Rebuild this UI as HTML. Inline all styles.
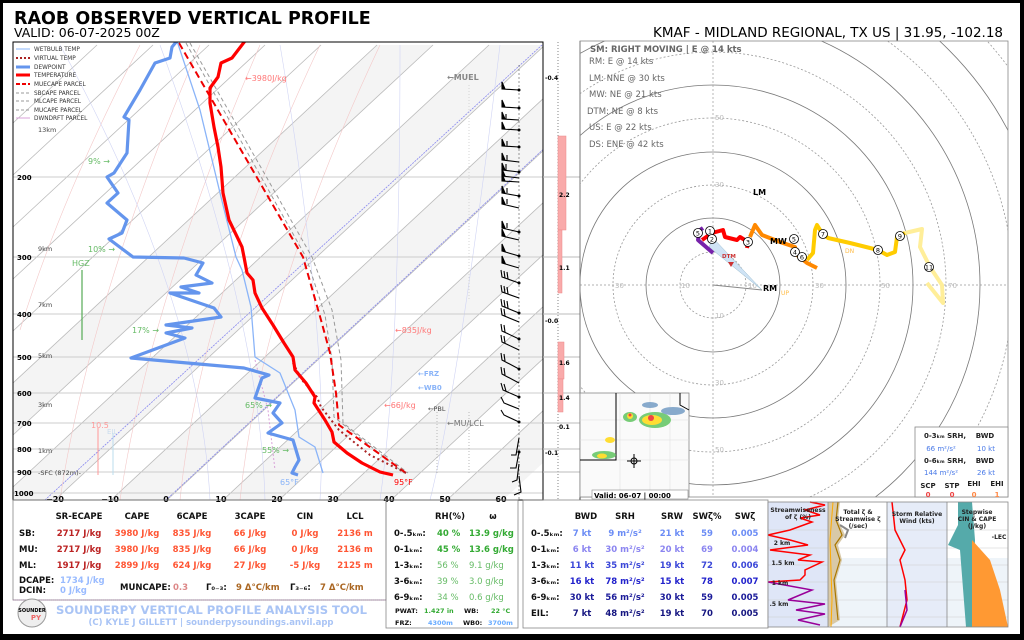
<!DOCTYPE html>
<html><head><meta charset="utf-8"><style>
html,body{margin:0;padding:0;background:#fff}
svg{display:block}
text{font-family:"DejaVu Sans","Liberation Sans",sans-serif}
</style></head><body>
<svg width="1024" height="640" viewBox="0 0 1024 640" xmlns="http://www.w3.org/2000/svg">
<rect x="0" y="0" width="1024" height="640" fill="#000"/>
<rect x="3" y="3" width="1017" height="631" fill="#fff"/>
<!-- titles -->
<text x="14" y="24" font-size="17.5" font-weight="bold">RAOB OBSERVED VERTICAL PROFILE</text>
<text x="14" y="37" font-size="12.5">VALID: 06-07-2025 00Z</text>
<text x="1003" y="37" font-size="13.5" text-anchor="end">KMAF - MIDLAND REGIONAL, TX US | 31.95, -102.18</text>

<!-- SKEW-T -->
<defs><clipPath id="sk"><rect x="13" y="42" width="530" height="458"/></clipPath>
<clipPath id="hd"><rect x="580" y="41" width="428" height="456"/></clipPath></defs>
<g clip-path="url(#sk)">
<g fill="#f4f4f4">
<polygon points="111,500 167,500 657,45 601,45"/>
<polygon points="223,500 279,500 769,45 713,45"/>
<polygon points="335,500 391,500 881,45 825,45"/>
<polygon points="447,500 503,500 993,45 937,45"/>
<polygon points="-1,500 55,500 545,45 489,45"/>
<polygon points="-113,500 -57,500 433,45 377,45"/>
</g>
<g stroke="#bbb" stroke-width="0.8">
<line x1="-169" y1="500" x2="321" y2="45"/><line x1="-113" y1="500" x2="377" y2="45"/>
<line x1="-57" y1="500" x2="433" y2="45"/><line x1="-1" y1="500" x2="489" y2="45"/>
<line x1="55" y1="500" x2="545" y2="45"/><line x1="111" y1="500" x2="601" y2="45"/>
<line x1="167" y1="500" x2="657" y2="45"/><line x1="223" y1="500" x2="713" y2="45"/>
<line x1="279" y1="500" x2="769" y2="45"/><line x1="335" y1="500" x2="825" y2="45"/>
<line x1="391" y1="500" x2="881" y2="45"/><line x1="447" y1="500" x2="937" y2="45"/>
<line x1="-225" y1="500" x2="265" y2="45"/><line x1="-281" y1="500" x2="209" y2="45"/>
<line x1="-337" y1="500" x2="153" y2="45"/><line x1="-393" y1="500" x2="97" y2="45"/>
</g>
<g stroke="#8888ee" stroke-width="0.8" stroke-dasharray="2,1">
<line x1="45" y1="500" x2="542" y2="45"/><line x1="166" y1="500" x2="663" y2="38"/>
</g>
<g fill="none" stroke="#f3c8c8" stroke-width="0.6">
<path d="M20,330 Q60,200 140,45"/><path d="M60,500 Q90,300 200,45"/><path d="M120,500 Q150,300 260,45"/>
<path d="M180,500 Q200,300 320,45"/><path d="M240,500 Q260,300 380,45"/>
</g>
<g fill="none" stroke="#d0d4f4" stroke-width="0.6">
<path d="M210,500 Q200,300 60,45"/><path d="M265,500 Q260,320 160,45"/><path d="M320,500 Q330,340 280,45"/>
<path d="M380,500 Q400,360 400,45"/><path d="M430,500 Q460,380 500,45"/>
</g>
<g stroke="#ccc" stroke-width="1">
<line x1="13" y1="177" x2="543" y2="177"/><line x1="13" y1="257" x2="543" y2="257"/>
<line x1="13" y1="314" x2="543" y2="314"/><line x1="13" y1="357" x2="543" y2="357"/>
<line x1="13" y1="393" x2="543" y2="393"/><line x1="13" y1="423" x2="543" y2="423"/>
<line x1="13" y1="449" x2="543" y2="449"/><line x1="13" y1="472" x2="543" y2="472"/>
<line x1="13" y1="493" x2="543" y2="493"/>
</g>
<polyline fill="none" stroke="#999" stroke-width="1" stroke-dasharray="4,3" points="190,43 312,257 332,310 341,360 343,423 408,473"/>
<polyline fill="none" stroke="#999" stroke-width="1" stroke-dasharray="4,3" points="186,43 306,257 325,315 332,360 334,417 404,473"/>
<polyline fill="none" stroke="#e00" stroke-width="2" stroke-dasharray="7,4" points="179,43 303,257 321,320 330,353 336,393 339,425 406,473"/>
<polyline fill="none" stroke="#d8a0d8" stroke-width="1" stroke-dasharray="2,2" points="255,360 268,410 275,470"/>
<polyline fill="none" stroke="#8ab4f8" stroke-width="1.3" points="177,41 200,110 221,197 236,257 242,270 251,307 255,357 280,373 295,410 299,437 315,447 323,473"/>
<polyline fill="none" stroke="#a22" stroke-width="2" stroke-dasharray="2,3" points="293,363 302,380 317,397 321,407 339,430 370,455 406,473"/>
<polyline fill="none" stroke="#f00" stroke-width="3.2" stroke-linejoin="round" points="245,41 232,58 221,63 218,77 210,88 210,103 214,127 218,147 221,167 223,193 229,220 242,247 244,257 247,273 253,280 255,293 262,308 273,325 284,343 293,357 295,370 306,383 315,397 314,403 325,420 332,432 334,442 347,453 362,463 380,472 393,475"/>
<polyline fill="none" stroke="#6495ed" stroke-width="3.2" stroke-linejoin="round" points="177,41 172,47 170,58 155,63 140,90 124,117 129,120 127,153 114,173 107,177 118,193 107,203 127,220 122,233 109,239 133,257 184,258 203,263 196,275 212,283 181,287 199,293 170,293 214,308 221,317 166,325 192,328 166,333 185,338 131,358 244,368 269,375 262,378 255,398 280,403 273,413 282,423 268,433 293,440 299,460 295,467 292,473 298,475"/>
<line x1="82" y1="270" x2="82" y2="340" stroke="#5a5" stroke-width="1.2"/>
<line x1="98" y1="428" x2="98" y2="475" stroke="#f99" stroke-width="1"/>
<line x1="113" y1="433" x2="113" y2="475" stroke="#bde" stroke-width="1"/>
<line x1="437" y1="412" x2="437" y2="475" stroke="#aaa" stroke-width="0.8" stroke-dasharray="1,2"/>
<line x1="469" y1="412" x2="469" y2="475" stroke="#aaa" stroke-width="0.8" stroke-dasharray="1,2"/>
<line x1="469" y1="85" x2="469" y2="300" stroke="#ccc" stroke-width="0.8" stroke-dasharray="1,2"/>
</g>
<rect x="13" y="42" width="530" height="458" fill="none" stroke="#000" stroke-width="1"/>
<line x1="519" y1="65" x2="519" y2="500" stroke="#555" stroke-width="0.6" stroke-dasharray="2,2"/>
<g stroke="#000" stroke-width="1.1" fill="#000">
<path d="M519,90 L502,89 M502,89 L502,82 L505,89Z"/>
<path d="M519,108 L502,107 M502,107 L502,100 L505,107Z"/>
<path d="M519,120 L502,119 M502,119 L502,112 L505,119Z M506,119 L506,114"/>
<path d="M519,130 L502,129 M502,129 L502,122 L505,129Z"/>
<path d="M519,147 L502,146 M502,146 L502,139 L505,146Z M507,146 L507,141"/>
<path d="M519,162 L502,160 M502,160 L502,153 L505,160Z M507,160 L507,155"/>
<path d="M519,172 L502,170 M502,170 L502,163 L505,170Z M506,170 L506,164"/>
<path d="M519,178 L502,176 M502,176 L502,169 L505,176Z"/>
<path d="M519,182 L502,181 M502,181 L502,174 L505,181Z"/>
<path d="M519,196 L502,193 M502,193 L502,186 L505,193Z M507,193 L507,188"/>
<path d="M519,208 L502,204 M502,204 L502,197 L505,204Z M507,204 L507,199"/>
<path d="M519,232 L502,228 M502,228 L502,221 L505,228Z M507,228 L507,223"/>
<path d="M519,240 L502,236 M502,236 L502,229 L505,236Z"/>
<path d="M519,256 L502,251 M502,251 L502,244 L505,251Z"/>
<path d="M519,268 L502,263 M502,263 L502,256 L505,263Z"/>
</g>
<g stroke="#000" stroke-width="1.1" fill="none">
<path d="M519,283 L502,277 L501,270 M505,278 L504,271 M508,279 L507,272"/>
<path d="M519,298 L502,292 L501,285 M505,293 L504,286 M508,294 L507,287"/>
<path d="M519,313 L502,306 L501,299 M505,307 L504,300 M508,308 L507,301"/>
<path d="M519,322 L502,315 L501,308 M505,316 L504,309"/>
<path d="M519,339 L502,331 L501,324 M505,332 L504,325"/>
<path d="M519,350 L502,342 L501,335 M505,343 L504,336"/>
<path d="M519,369 L502,360 L501,353 M505,361 L504,354"/>
<path d="M519,383 L502,374 L501,367 M505,375 L504,368"/>
<path d="M519,397 L503,390 L501,383 M506,391 L504,384"/>
<path d="M519,409 L504,403 L501,397"/>
<path d="M519,422 L504,415 L501,410"/>
<path d="M519,438 L516,455 L511,455"/>
<path d="M519,452 L516,468 L510,468"/>
<path d="M519,464 L517,480 L512,482"/>
<path d="M519,476 L521,492 L514,495"/>
</g>
<g fill="#000"><circle cx="519" cy="90" r="1.5"/><circle cx="519" cy="108" r="1.5"/><circle cx="519" cy="130" r="1.5"/><circle cx="519" cy="147" r="1.5"/><circle cx="519" cy="172" r="1.5"/><circle cx="519" cy="196" r="1.5"/><circle cx="519" cy="232" r="1.5"/><circle cx="519" cy="256" r="1.5"/><circle cx="519" cy="283" r="1.5"/><circle cx="519" cy="313" r="1.5"/><circle cx="519" cy="339" r="1.5"/><circle cx="519" cy="369" r="1.5"/><circle cx="519" cy="397" r="1.5"/><circle cx="519" cy="422" r="1.5"/><circle cx="519" cy="452" r="1.5"/></g>
<line x1="558" y1="42" x2="558" y2="500" stroke="#333" stroke-width="0.6" stroke-dasharray="1,2"/>
<line x1="543" y1="177" x2="580" y2="177" stroke="#bbb"/><line x1="543" y1="257" x2="580" y2="257" stroke="#bbb"/>
<line x1="543" y1="314" x2="580" y2="314" stroke="#bbb"/><line x1="543" y1="357" x2="580" y2="357" stroke="#bbb"/>
<line x1="543" y1="393" x2="580" y2="393" stroke="#bbb"/><line x1="543" y1="423" x2="580" y2="423" stroke="#bbb"/>
<line x1="543" y1="449" x2="580" y2="449" stroke="#bbb"/><line x1="543" y1="472" x2="580" y2="472" stroke="#bbb"/>
<g fill="#f9aaaa" stroke="#e88" stroke-width="0.5">
<rect x="558" y="136" width="8" height="94"/><rect x="558" y="230" width="4" height="63"/>
<rect x="558" y="342" width="6" height="37"/><rect x="558" y="379" width="5" height="33"/>
</g>
<g font-size="6" font-weight="bold" fill="#000">
<text x="545" y="80">-0.4</text><text x="559" y="197">2.2</text><text x="559" y="270">1.1</text>
<text x="545" y="323">-0.0</text><text x="559" y="365">1.6</text><text x="559" y="400">1.4</text>
<text x="559" y="429">0.1</text><text x="545" y="455">-0.1</text>
</g>
<line x1="580" y1="41" x2="580" y2="500" stroke="#000" stroke-width="0.8"/>
<g font-size="5.8" fill="#333">
<line x1="16" y1="49" x2="30" y2="49" stroke="#8ab4f8"/><text x="34" y="51">WETBULB TEMP</text>
<line x1="16" y1="58" x2="30" y2="58" stroke="#a22" stroke-width="2" stroke-dasharray="2,2"/><text x="34" y="60">VIRTUAL TEMP</text>
<line x1="16" y1="67" x2="30" y2="67" stroke="#6495ed" stroke-width="3"/><text x="34" y="69">DEWPOINT</text>
<line x1="16" y1="75" x2="30" y2="75" stroke="#f00" stroke-width="3"/><text x="34" y="77">TEMPERATURE</text>
<line x1="16" y1="84" x2="30" y2="84" stroke="#e00" stroke-width="2" stroke-dasharray="4,2"/><text x="34" y="86">MUECAPE PARCEL</text>
<line x1="16" y1="93" x2="30" y2="93" stroke="#999" stroke-dasharray="3,2"/><text x="34" y="95">SBCAPE PARCEL</text>
<line x1="16" y1="101" x2="30" y2="101" stroke="#999" stroke-dasharray="3,2"/><text x="34" y="103">MLCAPE PARCEL</text>
<line x1="16" y1="110" x2="30" y2="110" stroke="#999" stroke-dasharray="3,2"/><text x="34" y="112">MUCAPE PARCEL</text>
<line x1="16" y1="118" x2="30" y2="118" stroke="#d8a0d8"/><text x="34" y="120">DWNDRFT PARCEL</text>
</g>
<g font-size="6.5" fill="#444">
<text x="38" y="132">13km</text><text x="38" y="251">9km</text><text x="38" y="307">7km</text>
<text x="38" y="358">5km</text><text x="38" y="407">3km</text><text x="38" y="453">1km</text>
<text x="38" y="475">-SFC (872m)-</text><text x="428" y="411">←PBL</text>
</g>
<g font-size="7" font-weight="bold" fill="#000">
<text x="17" y="180">200</text><text x="17" y="260">300</text><text x="17" y="317">400</text><text x="17" y="360">500</text>
<text x="17" y="396">600</text><text x="17" y="426">700</text><text x="17" y="452">800</text><text x="17" y="475">900</text><text x="14" y="496">1000</text>
</g>
<g font-size="8" font-weight="bold" fill="#000" text-anchor="middle">
<text x="55" y="502">−20</text><text x="110" y="502">−10</text><text x="166" y="502">0</text><text x="221" y="502">10</text>
<text x="277" y="502">20</text><text x="333" y="502">30</text><text x="389" y="502">40</text><text x="445" y="502">50</text><text x="501" y="502">60</text>
</g>
<g font-size="8">
<text x="245" y="81" fill="#f77">←3980J/kg</text>
<text x="447" y="80" fill="#888" font-weight="bold">←MUEL</text>
<text x="88" y="164" fill="#6b6">9% →</text><text x="88" y="252" fill="#6b6">10% →</text>
<text x="72" y="266" fill="#6b6">HGZ</text><text x="132" y="333" fill="#6b6">17% →</text>
<text x="245" y="408" fill="#6b6">65% →</text><text x="262" y="453" fill="#6b6">55% →</text>
<text x="280" y="485" fill="#8ab4f8">65°F</text><text x="394" y="485" fill="#f00">95°F</text>
<text x="395" y="333" fill="#f77">←835J/kg</text>
<text x="418" y="376" fill="#8ab4f8" font-size="7" font-weight="bold">←FRZ</text>
<text x="418" y="390" fill="#8ab4f8" font-size="7" font-weight="bold">←WB0</text>
<text x="384" y="408" fill="#f77">←66J/kg</text>
<text x="447" y="426" fill="#777">←MU/LCL</text>
<text x="91" y="428" fill="#f99">10.5</text><text x="107" y="434" fill="#cde" font-size="7">EIL</text>
</g>

<!-- HODOGRAPH -->
<g clip-path="url(#hd)">
<g fill="none" stroke-width="0.8">
<circle cx="713" cy="285" r="33" stroke="#999" stroke-dasharray="2,2"/>
<circle cx="713" cy="285" r="67" stroke="#777"/>
<circle cx="713" cy="285" r="100" stroke="#999" stroke-dasharray="2,2"/>
<circle cx="713" cy="285" r="133" stroke="#777"/>
<circle cx="713" cy="285" r="167" stroke="#999" stroke-dasharray="2,2"/>
<circle cx="713" cy="285" r="200" stroke="#777"/>
<circle cx="713" cy="285" r="233" stroke="#999" stroke-dasharray="2,2"/>
<circle cx="713" cy="285" r="267" stroke="#777"/>
<circle cx="713" cy="285" r="300" stroke="#999" stroke-dasharray="2,2"/>
<circle cx="713" cy="285" r="333" stroke="#777"/>
<circle cx="713" cy="285" r="367" stroke="#999" stroke-dasharray="2,2"/>
</g>
<line x1="713" y1="41" x2="713" y2="497" stroke="#999" stroke-width="0.7" stroke-dasharray="2,2"/>
<line x1="580" y1="285" x2="1008" y2="285" stroke="#999" stroke-width="0.7" stroke-dasharray="2,2"/>
<g font-size="7" fill="#bbb">
<text x="615" y="288">30</text><text x="681" y="288">10</text><text x="748" y="288">10</text><text x="815" y="288">30</text>
<text x="881" y="288">50</text><text x="948" y="288">70</text><text x="715" y="120">50</text><text x="715" y="187">30</text>
<text x="715" y="318">10</text><text x="715" y="385">30</text><text x="715" y="452">50</text>
</g>
<polygon points="713,238 762,290 709,247" fill="#cfe3f5" stroke="#9bc" stroke-width="0.5"/>
<line x1="713" y1="285" x2="762" y2="290" stroke="#888" stroke-width="1"/>
<polyline fill="none" stroke="#fe9" stroke-width="4" stroke-linejoin="round" points="905,233 922,229 920,247 930,267 942,285 943,303 927,283"/>
<polyline fill="none" stroke="#fc0" stroke-width="4" stroke-linejoin="round" points="807,260 813,253 815,230 817,225 822,233 828,238 850,243 878,250 887,255 895,252 897,237 905,233"/>
<polyline fill="none" stroke="#f80" stroke-width="4" stroke-linejoin="round" points="750,237 755,225 762,235 780,242 795,247 797,255 807,263 817,268"/>
<polyline fill="none" stroke="#f00" stroke-width="4" stroke-linejoin="round" points="702,240 712,233 723,230 725,237 737,240 740,237 748,242 747,248"/>
<polyline fill="none" stroke="#72a" stroke-width="4" stroke-linejoin="round" points="713,253 698,240 700,230 703,228"/>
<g fill="#fff" stroke="#000" stroke-width="0.8">
<circle cx="710" cy="231" r="4.5"/><circle cx="698" cy="233" r="4.5"/><circle cx="712" cy="239" r="4.5"/>
<circle cx="748" cy="242" r="4.5"/><circle cx="794" cy="239" r="4.5"/><circle cx="795" cy="252" r="4.5"/>
<circle cx="802" cy="257" r="4.5"/><circle cx="823" cy="234" r="4.5"/><circle cx="878" cy="250" r="4.5"/>
<circle cx="900" cy="236" r="4.5"/><circle cx="929" cy="267" r="4.5"/>
</g>
<g font-size="6.5" text-anchor="middle" fill="#000">
<text x="710" y="233.5">1</text><text x="698" y="235.5">5</text><text x="712" y="241.5">2</text><text x="748" y="244.5">3</text>
<text x="794" y="241.5">5</text><text x="795" y="254.5">4</text><text x="802" y="259.5">6</text><text x="823" y="236.5">7</text>
<text x="878" y="252.5">8</text><text x="900" y="238.5">9</text><text x="929" y="269.5">11</text>
</g>
<g font-weight="bold" font-size="8" fill="#000">
<text x="753" y="195">LM</text><text x="770" y="244">MW</text><text x="763" y="291">RM</text>
</g>
<text x="722" y="258" font-size="5.5" fill="#c33" font-weight="bold">DTM</text>
<polygon points="728,262 734,262 731,267" fill="#c33"/>
<text x="781" y="295" font-size="6" fill="#fb4">UP</text><text x="845" y="253" font-size="6" fill="#fb4">DN</text>
<g font-size="8.5" fill="#666">
<text x="590" y="52" font-weight="bold">SM: RIGHT MOVING | E @ 14 kts</text>
<text x="589" y="64">RM: E @ 14 kts</text><text x="589" y="81">LM: NNE @ 30 kts</text>
<text x="589" y="97">MW: NE @ 21 kts</text><text x="587" y="114">DTM: NE @ 8 kts</text>
<text x="589" y="130">US: E @ 22 kts</text><text x="589" y="147">DS: ENE @ 42 kts</text>
</g>
</g>
<rect x="580" y="41" width="428" height="456" fill="none" stroke="#888" stroke-width="0.8"/>
<rect x="580" y="393" width="109" height="104" fill="#fafafa" stroke="#888" stroke-width="0.8"/>
<g stroke="#ddd" stroke-width="0.5"><line x1="580" y1="420" x2="689" y2="420"/><line x1="580" y1="440" x2="689" y2="440"/><line x1="580" y1="460" x2="689" y2="460"/><line x1="620" y1="393" x2="620" y2="497"/><line x1="650" y1="393" x2="650" y2="497"/><line x1="670" y1="393" x2="670" y2="497"/></g>
<polyline points="580,460 616,460 616,393" fill="none" stroke="#000" stroke-width="1"/>
<polyline points="680,393 680,405 689,410" fill="none" stroke="#000" stroke-width="1"/>
<g>
<ellipse cx="655" cy="420" rx="16" ry="8" fill="#7c7"/><ellipse cx="652" cy="420" rx="10" ry="5" fill="#fd3"/><circle cx="651" cy="418" r="3" fill="#e44"/>
<ellipse cx="630" cy="417" rx="7" ry="5" fill="#7c7"/><circle cx="630" cy="416" r="3" fill="#fd3"/><circle cx="630" cy="415" r="1.5" fill="#e44"/>
<ellipse cx="673" cy="411" rx="12" ry="4" fill="#8ac"/><ellipse cx="650" cy="405" rx="8" ry="3" fill="#8ac"/>
<ellipse cx="610" cy="440" rx="5" ry="3" fill="#fd3"/><ellipse cx="604" cy="455" rx="12" ry="4" fill="#7c7"/><ellipse cx="602" cy="456" rx="5" ry="2.5" fill="#fd3"/>
</g>
<g stroke="#000" stroke-width="1"><circle cx="634" cy="461" r="3" fill="none"/><line x1="627" y1="461" x2="641" y2="461"/><line x1="634" y1="454" x2="634" y2="468"/></g>
<rect x="592" y="490" width="96" height="9" fill="#fff" stroke="#888" stroke-width="0.6"/>
<text x="594" y="498" font-size="7" font-weight="bold">Valid: 06-07 | 00:00</text>
<rect x="915" y="427" width="93" height="70" fill="#fff" stroke="#888" stroke-width="0.8"/>
<g font-size="7" font-weight="bold" text-anchor="middle">
<text x="945" y="438" fill="#222">0-3ₖₘ SRH,</text><text x="985" y="438" fill="#222">BWD</text>
<text x="941" y="451" fill="#4a7ae8" font-weight="normal">66 m²/s²</text><text x="986" y="451" fill="#4a7ae8" font-weight="normal">10 kt</text>
<text x="945" y="463" fill="#222">0-6ₖₘ SRH,</text><text x="985" y="463" fill="#222">BWD</text>
<text x="941" y="475" fill="#4a7ae8" font-weight="normal">144 m²/s²</text><text x="986" y="475" fill="#4a7ae8" font-weight="normal">26 kt</text>
<text x="928" y="488" fill="#222">SCP</text><text x="952" y="488" fill="#222">STP</text><text x="974" y="486" fill="#222">EHI</text><text x="997" y="486" fill="#222">EHI</text>
<text x="928" y="497" fill="#e44">0</text><text x="952" y="497" fill="#e44">0</text><text x="974" y="497" fill="#f84">0</text><text x="997" y="497" fill="#f84">1</text>
</g>

<!-- BOTTOM TABLE 1 -->
<rect x="13" y="500" width="373" height="100" fill="none" stroke="#888" stroke-width="0.8"/>
<line x1="13" y1="600" x2="386" y2="600" stroke="#a5a" stroke-width="0.6" stroke-dasharray="1,1"/>
<g font-size="8.5" font-weight="bold">
<g text-anchor="middle" fill="#111"><text x="79" y="519">SR-ECAPE</text><text x="137" y="519">CAPE</text><text x="192" y="519">6CAPE</text><text x="250" y="519">3CAPE</text><text x="305" y="519">CIN</text><text x="355" y="519">LCL</text></g>
<text x="19" y="536" fill="#111">SB:</text><text x="19" y="552" fill="#111">MU:</text><text x="19" y="568" fill="#111">ML:</text>
<g text-anchor="middle" fill="#b22">
<text x="79" y="536">2717 J/kg</text><text x="79" y="552">2717 J/kg</text><text x="79" y="568">1917 J/kg</text></g>
<g text-anchor="middle" fill="#f53">
<text x="137" y="536">3980 J/kg</text><text x="192" y="536">835 J/kg</text><text x="250" y="536">66 J/kg</text><text x="305" y="536">0 J/kg</text><text x="355" y="536">2136 m</text>
<text x="137" y="552">3980 J/kg</text><text x="192" y="552">835 J/kg</text><text x="250" y="552">66 J/kg</text><text x="305" y="552">0 J/kg</text><text x="355" y="552">2136 m</text>
<text x="137" y="568">2899 J/kg</text><text x="192" y="568">624 J/kg</text><text x="250" y="568">27 J/kg</text><text x="305" y="568">-5 J/kg</text><text x="355" y="568">2125 m</text></g>
<text x="19" y="583" fill="#111">DCAPE:</text><text x="19" y="593" fill="#111">DCIN:</text>
<text x="60" y="583" fill="#9bf">1734 J/kg</text><text x="60" y="593" fill="#9bf">0 J/kg</text>
<text x="120" y="590" fill="#111">MUNCAPE:</text><text x="173" y="590" fill="#d88">0.3</text>
<text x="206" y="590" fill="#111">Γ₀₋₃:</text><text x="236" y="590" fill="#a62">9 Δ°C/km</text>
<text x="290" y="590" fill="#111">Γ₃₋₆:</text><text x="320" y="590" fill="#a62">7 Δ°C/km</text>
</g>
<circle cx="32" cy="613" r="14" fill="#eee" stroke="#999"/>
<text x="32" y="612" font-size="5" text-anchor="middle" font-weight="bold">SOUNDER</text>
<text x="36" y="620" font-size="7" fill="#e66" text-anchor="middle" font-weight="bold">PY</text>
<text x="56" y="614" font-size="11.6" font-weight="bold" fill="#a9c4f5" textLength="311" lengthAdjust="spacingAndGlyphs">SOUNDERPY VERTICAL PROFILE ANALYSIS TOOL</text>
<text x="211" y="625" font-size="8.5" font-weight="bold" fill="#a9c4f5" text-anchor="middle">(C) KYLE J GILLETT | sounderpysoundings.anvil.app</text>

<!-- TABLE 2 -->
<rect x="386" y="500" width="132" height="128" fill="none" stroke="#888" stroke-width="0.8"/>
<g font-size="8.5" font-weight="bold">
<text x="450" y="519" text-anchor="middle" fill="#111">RH(%)</text><text x="493" y="519" text-anchor="middle" fill="#111">ω</text>
<g fill="#111"><text x="394" y="536">0-.5ₖₘ:</text><text x="394" y="552">0-1ₖₘ:</text><text x="394" y="568">1-3ₖₘ:</text><text x="394" y="584">3-6ₖₘ:</text><text x="394" y="600">6-9ₖₘ:</text></g>
<g fill="#3a3"><text x="437" y="536">40 %</text><text x="469" y="536">13.9 g/kg</text><text x="437" y="552">45 %</text><text x="469" y="552">13.6 g/kg</text></g>
<g fill="#6b6" font-weight="normal"><text x="437" y="568">56 %</text><text x="469" y="568">9.1 g/kg</text><text x="437" y="584">39 %</text><text x="469" y="584">3.0 g/kg</text><text x="437" y="600">34 %</text><text x="469" y="600">0.6 g/kg</text></g>
<g font-size="6.5"><text x="395" y="613" fill="#111">PWAT:</text><text x="424" y="613" fill="#3a3">1.427 in</text><text x="464" y="613" fill="#111">WB:</text><text x="491" y="613" fill="#3a3">22 °C</text>
<text x="395" y="625" fill="#111">FRZ:</text><text x="428" y="625" fill="#6af">4300m</text><text x="463" y="625" fill="#111">WB0:</text><text x="488" y="625" fill="#6af">3700m</text></g>
</g>

<!-- TABLE 3 -->
<rect x="523" y="500" width="245" height="128" fill="none" stroke="#888" stroke-width="0.8"/>
<g font-size="8.5" font-weight="bold">
<g text-anchor="middle" fill="#111"><text x="586" y="519">BWD</text><text x="625" y="519">SRH</text><text x="672" y="519">SRW</text><text x="707" y="519">SWζ%</text><text x="745" y="519">SWζ</text></g>
<g fill="#111"><text x="531" y="536">0-.5ₖₘ:</text><text x="531" y="552">0-1ₖₘ:</text><text x="531" y="568">1-3ₖₘ:</text><text x="531" y="584">3-6ₖₘ:</text><text x="531" y="600">6-9ₖₘ:</text><text x="531" y="616">EIL:</text></g>
<g text-anchor="middle">
<g fill="#6b8cf5"><text x="582" y="536">7 kt</text><text x="625" y="536">9 m²/s²</text><text x="672" y="536">21 kt</text><text x="707" y="536">59</text><text x="745" y="536">0.005</text></g>
<g fill="#8b85f0"><text x="582" y="552">6 kt</text><text x="625" y="552">30 m²/s²</text><text x="672" y="552">20 kt</text><text x="707" y="552">69</text><text x="745" y="552">0.004</text></g>
<g fill="#3a46d8"><text x="582" y="568">11 kt</text><text x="625" y="568">35 m²/s²</text><text x="672" y="568">19 kt</text><text x="707" y="568">72</text><text x="745" y="568">0.006</text></g>
<g fill="#2222cc"><text x="582" y="584">16 kt</text><text x="625" y="584">78 m²/s²</text><text x="672" y="584">15 kt</text><text x="707" y="584">78</text><text x="745" y="584">0.007</text></g>
<g fill="#1a1a99"><text x="582" y="600">30 kt</text><text x="625" y="600">56 m²/s²</text><text x="672" y="600">30 kt</text><text x="707" y="600">59</text><text x="745" y="600">0.005</text></g>
<g fill="#151580"><text x="582" y="616">7 kt</text><text x="625" y="616">48 m²/s²</text><text x="672" y="616">19 kt</text><text x="707" y="616">70</text><text x="745" y="616">0.005</text></g>
</g></g>

<!-- small panels -->
<rect x="768" y="502" width="60" height="125" fill="#dfe6f7"/>
<rect x="887" y="502" width="60" height="125" fill="#e6ecf8"/>
<rect x="828" y="558" width="59" height="69" fill="#eef4f9"/><rect x="947" y="558" width="61" height="69" fill="#eef4f9"/>
<g stroke="#ccc" stroke-width="0.5">
<line x1="768" y1="530" x2="1008" y2="530"/><line x1="768" y1="548" x2="1008" y2="548"/><line x1="768" y1="565" x2="1008" y2="565"/>
<line x1="768" y1="582" x2="1008" y2="582"/><line x1="768" y1="600" x2="1008" y2="600"/><line x1="768" y1="617" x2="1008" y2="617"/>
</g>
<polyline fill="none" stroke="#f00" stroke-width="1.5" points="810,502 825,505 805,510 820,515 800,518 812,522 790,530 768,535 790,540 808,545 770,550 810,555 798,560 822,562 805,570 805,575 800,580 768,582"/>
<polyline fill="none" stroke="#909" stroke-width="1.5" points="768,582 812,590 788,600 825,604 796,610 825,614 798,620 820,625"/>
<polygon points="828,502 840,502 838,520 845,535 838,545 842,560 836,580 840,620 828,627" fill="#d8c9a8"/>
<polyline fill="none" stroke="#a70" stroke-width="1.2" points="838,502 836,520 842,535 835,545 840,560 834,580 838,620"/>
<polyline fill="none" stroke="#888" stroke-width="2" points="840,525 848,530 845,538"/>
<polyline fill="none" stroke="#fa0" stroke-width="1" points="833,502 830,540 832,600 831,627"/>
<polyline fill="none" stroke="#f00" stroke-width="1.5" points="892,502 895,530 905,550 900,560 905,580 907,600 900,627"/>
<polyline fill="none" stroke="#909" stroke-width="1.5" points="905,590 907,610 900,627"/>
<polygon points="958,502 972,502 975,540 972,627 966,627 960,550 948,545 958,525" fill="#5aa"/>
<polygon points="972,540 990,560 1000,590 1008,627 972,627" fill="#f93"/>
<g stroke="#888" stroke-width="0.8" fill="none"><rect x="768" y="502" width="240" height="125"/><line x1="828" y1="502" x2="828" y2="627"/><line x1="887" y1="502" x2="887" y2="627"/><line x1="947" y1="502" x2="947" y2="627"/></g>
<g font-size="6" font-weight="bold" text-anchor="middle" fill="#222">
<text x="798" y="512">Streamwiseness</text><text x="798" y="519">of ζ (%)</text>
<text x="858" y="514">Total ζ &amp;</text><text x="858" y="521">Streamwise ζ</text><text x="858" y="528">(/sec)</text>
<text x="917" y="516">Storm Relative</text><text x="917" y="523">Wind (kts)</text>
<text x="977" y="514">Stepwise</text><text x="977" y="521">CIN &amp; CAPE</text><text x="977" y="528">(J/kg)</text>
<text x="782" y="545">2 km</text><text x="783" y="565">1.5 km</text><text x="780" y="585">1 km</text><text x="779" y="606">.5 km</text>
<text x="999" y="539">-LEC</text>
</g>
</svg>
</body></html>
